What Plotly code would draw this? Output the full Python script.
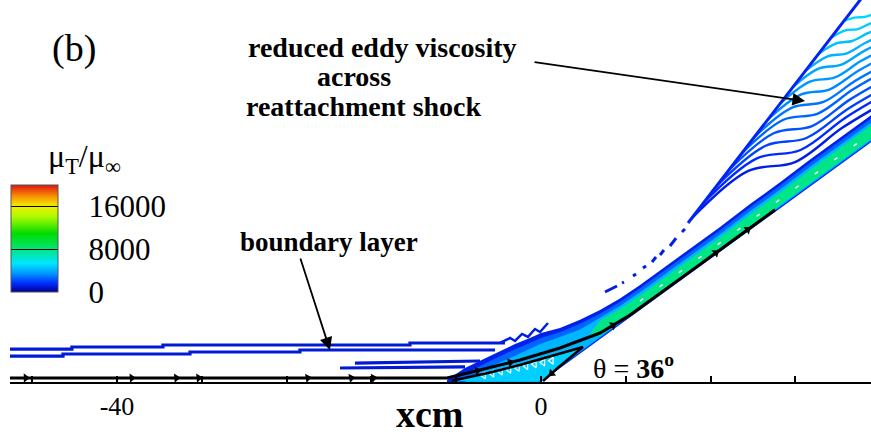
import numpy as np
import plotly.graph_objects as go
from plotly.colors import sample_colorscale

# ---------------- colour map for mu_T / mu_inf ----------------
MU_MAX = 20000
rainbow = [
    [0.0, "rgb(0,0,140)"],
    [0.078, "rgb(0,40,255)"],
    [0.172, "rgb(0,150,255)"],
    [0.266, "rgb(0,230,255)"],
    [0.36, "rgb(0,230,170)"],
    [0.41, "rgb(0,230,110)"],
    [0.547, "rgb(0,220,0)"],
    [0.70, "rgb(170,250,0)"],
    [0.80, "rgb(240,240,0)"],
    [0.89, "rgb(250,150,0)"],
    [1.0, "rgb(220,20,20)"],
]
cbar_ticks = [0, 8000, 16000]

# ---------------- flood levels (x, y in cm) ----------------
outer_mu = 1300
outer_x = [-8.87, -7.17, -4.81, -2.45, -1.04, 0.0, 1.79, 3.68, 5.57, 7.45, 9.34, 11.23, 13.11, 15.0,
           16.89, 19.72, 22.55, 25.38, 28.21, 31.13, 33.87, 33.87, 0.0, -8.87]
outer_y = [0.19, 1.32, 2.45, 3.58, 4.15, 4.63, 5.09, 5.88, 6.79, 7.87, 9.15, 10.52, 11.88, 13.26,
           14.63, 16.79, 18.84, 20.99, 23.04, 25.17, 27.16, 24.61, 0.0, 0.0]

mid_mu = 2600
mid_x = [-8.3, -7.0, -4.81, -2.45, -1.04, 0.0, 1.79, 3.68, 5.57, 7.45, 9.34, 11.23, 13.11, 15.0,
         16.89, 19.72, 22.55, 25.38, 28.21, 31.13, 33.87, 33.87, -0.14, -8.3]
mid_y = [0.05, 0.85, 1.98, 3.10, 3.68, 4.15, 4.70, 5.50, 6.45, 7.55, 8.84, 10.21, 11.57, 12.95,
         14.32, 16.48, 18.53, 20.68, 22.73, 24.86, 26.85, 24.71, 0.0, 0.0]

inner_mu = 4200
inner_x = [-7.2, -5.5, -3.6, -1.8, 0.0, 1.79, 3.68, 5.57, 7.45, 9.34, 11.23, 13.11, 15.0, 16.89,
           19.72, 22.55, 25.38, 28.21, 31.13, 33.87, 33.87, -0.26, -7.2]
inner_y = [0.02, 1.1, 1.95, 2.75, 3.6, 4.25, 4.95, 6.05, 7.18, 8.46, 9.83, 11.19, 12.57, 13.94,
           16.10, 18.15, 20.30, 22.35, 24.48, 26.47, 24.80, 0.0, 0.0]

core_mu = 7800
core_x = [4.6, 5.57, 7.45, 9.34, 11.23, 13.11, 15.0, 16.89, 19.72, 22.55, 25.38, 28.21, 31.13, 33.87,
          33.87, 31.13, 28.21, 25.38, 22.55, 19.72, 16.89, 15.0, 13.11, 11.23, 9.34, 7.45, 5.57]
core_y = [4.5, 5.81, 6.89, 8.17, 9.54, 10.90, 12.28, 13.65, 15.81, 17.86, 20.01, 22.06, 24.19, 26.18,
          24.91, 22.92, 20.79, 18.74, 16.68, 14.63, 12.57, 11.20, 9.82, 8.46, 7.09, 5.71, 4.35]

bubble_mu = 4800
bubble_x = [-8.4, -5.0, -2.0, 1.0, 3.96, 1.79, 0.19, -8.4]
bubble_y = [0.12, 0.85, 1.6, 2.45, 3.30, 1.51, 0.09, 0.12]

# ---------------- contour lines ----------------
bl_mu = 1000
bl1_x = [-50.6, -44.25, -44.25, -35.66, -35.66, -12.36, -12.36, -3.40]
bl1_y = [3.11, 3.11, 3.30, 3.30, 3.49, 3.49, 3.68, 3.68]
bl2_x = [-50.6, -45.09, -45.09, -33.11, -33.11, -22.74, -22.74, -4.34]
bl2_y = [2.45, 2.45, 2.64, 2.64, 2.83, 2.83, 3.02, 3.02]
bl3_x = [-17.55, -5.75]
bl3_y = [1.79, 1.98]
bl4_x = [-18.96, -7.17]
bl4_y = [1.32, 1.42]

feather_mu = 1200
feather_x = [-3.87, -2.92, -2.45, -1.79, -1.23, -0.57, -0.09, 0.66]
feather_y = [3.68, 4.15, 3.87, 4.53, 4.25, 5.0, 4.72, 5.57]

foot_x = [6.04, 7.17, None, 7.64, 7.83, None, 8.68, 8.96, None, 9.62, 9.91, None, 10.47, 10.85,
          None, 11.23, 11.60, None, 12.17, 12.74, None, 13.30, 13.58]
foot_y = [8.49, 9.06, None, 9.34, 9.43, None, 10.0, 10.19, None, 10.75, 10.94, None, 11.32, 11.79,
          None, 11.98, 12.45, None, 12.83, 13.58, None, 14.15, 14.43]

shock_mu = 1400
shock_x = [13.87, 31.0]
shock_y = [15.0, 37.2]

wedge_x = [
    [28.56, 29.58, 30.44, 31.29, 31.98],
    [27.32, 28.72, 29.89, 31.05, 31.98],
    [26.16, 27.91, 29.36, 30.82, 31.98],
    [24.92, 27.04, 28.80, 30.57, 31.98],
    [23.76, 26.23, 28.28, 30.34, 31.98],
    [22.53, 25.37, 27.73, 30.09, 31.98],
    [21.36, 24.55, 27.20, 29.86, 31.98],
    [20.12, 23.68, 26.64, 29.61, 31.98],
    [18.96, 22.87, 26.12, 29.38, 31.98],
    [17.73, 22.0, 25.57, 29.13, 31.98],
    [16.56, 21.19, 25.04, 28.90, 31.98],
    [15.32, 20.32, 24.48, 28.65, 31.98],
    [14.16, 19.51, 23.96, 28.42, 31.98],
]
wedge_y = [
    [34.06, 34.38, 34.43, 34.66, 34.81],
    [32.45, 33.17, 33.30, 33.81, 34.15],
    [30.94, 31.97, 32.17, 32.91, 33.40],
    [29.34, 30.73, 30.99, 31.98, 32.64],
    [27.83, 29.58, 29.91, 31.15, 31.98],
    [26.23, 28.33, 28.73, 30.23, 31.23],
    [24.72, 27.13, 27.59, 29.32, 30.47],
    [23.11, 25.89, 26.42, 28.40, 29.72],
    [21.60, 24.74, 25.33, 27.57, 29.06],
    [20.0, 23.49, 24.15, 26.64, 28.30],
    [18.49, 22.29, 23.02, 25.74, 27.55],
    [16.89, 21.08, 21.89, 24.89, 26.89],
    [15.38, 19.90, 20.75, 23.98, 26.13],
]
wedge_mu = [5000, 4700, 4400, 4100, 3800, 3500, 3200, 2900, 2600, 2300, 2000, 1600, 1200]

# ---------------- streamlines ----------------
stream_x = [-50.6, -8.87, -5.75, -1.98, 1.79, 5.57, 8.40, 11.23, 15.0, 18.77, 22.08]
stream_y = [0.38, 0.38, 1.13, 2.08, 3.21, 4.62, 6.32, 8.35, 11.1, 13.85, 16.25]
loop_x = [-8.4, -5.0, -2.0, 1.0, 3.96, 1.79, 0.19]
loop_y = [0.12, 0.85, 1.6, 2.45, 3.30, 1.51, 0.09]
arrow_x = [-48.6, -38.6, -34.4, -32.3, -22.0, -17.9, -15.8, -6.0, -2.9, 6.8, 16.5, 19.5]

core_mark_x = [9.34, 15.0, 22.55, 28.21, 33.87]
core_mark_y = [7.64, 11.75, 17.23, 21.34, 25.46]
chevron_x = [-5.4, -4.6, -3.8, -3.0, -2.2, -1.4, -0.6, 0.2, 1.0]
chevron_y = [0.62, 0.80, 0.98, 1.15, 1.33, 1.50, 1.67, 1.84, 2.0]

# labelled x ticks and the unlabelled ones in between
xtick_vals = [-40, 0]
xtick_text = ["-40", "0"]
xminor_vals = [-48, -32, -24, -16, -8, 8, 16, 24]

SERIF = "Liberation Serif, Times New Roman, serif"


def mu_colour(v):
    return sample_colorscale(rainbow, [v / MU_MAX])[0]


fig = go.Figure()


def flood(xs, ys, mu):
    fig.add_trace(go.Scatter(x=xs, y=ys, mode="lines", fill="toself", fillcolor=mu_colour(mu),
                             line=dict(width=0, color=mu_colour(mu)), hoverinfo="skip"))


def line(xs, ys, colour, width, dash=None, shape="linear"):
    fig.add_trace(go.Scatter(x=xs, y=ys, mode="lines", hoverinfo="skip",
                             line=dict(color=colour, width=width, dash=dash, shape=shape)))


# boundary-layer contour lines
for bx, by in [(bl1_x, bl1_y), (bl2_x, bl2_y), (bl3_x, bl3_y), (bl4_x, bl4_y)]:
    line(bx, by, mu_colour(bl_mu), 3.2)

# separated region and shear layer along the ramp
flood(outer_x, outer_y, outer_mu)
flood(mid_x, mid_y, mid_mu)
flood(inner_x, inner_y, inner_mu)
flood(core_x, core_y, core_mu)
flood(bubble_x, bubble_y, bubble_mu)
line(core_mark_x, core_mark_y, "white", 1.5, dash="4px,20px")
fig.add_trace(go.Scatter(x=chevron_x, y=chevron_y, mode="markers", hoverinfo="skip",
                         marker=dict(symbol="triangle-left-open", size=6, color="white",
                                     line=dict(width=1.2, color="white"))))

# separation-shock foot and reattachment shock
line(feather_x, feather_y, mu_colour(feather_mu), 2.5)
line(foot_x, foot_y, mu_colour(feather_mu), 3)
for wx, wy, wm in zip(wedge_x, wedge_y, wedge_mu):
    line(wx, wy, mu_colour(wm), 2.4, shape="spline")
line(shock_x, shock_y, mu_colour(shock_mu), 3)

# streamlines
line(stream_x, stream_y, "black", 3)
line(loop_x, loop_y, "black", 2.5)
arrow_y = np.interp(arrow_x, stream_x, stream_y)
slope = np.gradient(np.array(stream_y), np.array(stream_x))
arrow_ang = -np.degrees(np.arctan(np.interp(arrow_x, stream_x, slope)))
fig.add_trace(go.Scatter(x=arrow_x, y=arrow_y, mode="markers", hoverinfo="skip",
                         marker=dict(symbol="triangle-right", size=8, color="black",
                                     angle=arrow_ang)))
fig.add_trace(go.Scatter(x=[1.0], y=[0.8], mode="markers", hoverinfo="skip",
                         marker=dict(symbol="triangle-right", size=8, color="black", angle=138)))

# colour bar
fig.add_trace(go.Scatter(
    x=[-100], y=[-100], mode="markers", hoverinfo="skip",
    marker=dict(color=[0], colorscale=rainbow, cmin=0, cmax=MU_MAX, showscale=True,
                colorbar=dict(x=0.0012, xanchor="left", y=0.3757, yanchor="middle",
                              len=0.2801, lenmode="fraction", thickness=47, xpad=0, ypad=0,
                              outlinewidth=1, outlinecolor="#555",
                              tickvals=cbar_ticks,
                              ticktext=["\u00a0\u00a0\u00a0" + str(t) for t in cbar_ticks],
                              ticks="inside", ticklen=47, tickwidth=1, tickcolor="black",
                              tickfont=dict(family=SERIF, size=31, color="black")))))

annotations = [
    dict(x=-44.06, y=31.5, text="(b)", font=dict(size=38)),
    dict(x=-43.1, y=21.1, text="μ<sub>T</sub>/μ<sub>∞</sub>", font=dict(size=32)),
    dict(x=-14.95, y=31.6, text="<b>reduced eddy viscosity</b>", font=dict(size=28)),
    dict(x=-17.64, y=28.8, text="<b>across</b>", font=dict(size=28)),
    dict(x=-16.7, y=26.0, text="<b>reattachment shock</b>", font=dict(size=28)),
    dict(x=-20.0, y=13.2, text="<b>boundary layer</b>", font=dict(size=27)),
    dict(x=8.77, y=1.45, text="θ = <b>36</b><sup><b>o</b></sup>", font=dict(size=28)),
    dict(x=0.488, y=-0.085, xref="paper", yref="paper", text="<b>xcm</b>", font=dict(size=38)),
]
for a in annotations:
    a.setdefault("xref", "x")
    a.setdefault("yref", "y")
    a["showarrow"] = False
    a["font"].update(family=SERIF, color="black")
    a["xanchor"] = "center"
    a["yanchor"] = "middle"

for tail, head in [((-0.75, 30.19), (24.91, 26.51)), ((-22.74, 11.79), (-19.91, 3.02))]:
    annotations.append(dict(x=head[0], y=head[1], ax=tail[0], ay=tail[1], xref="x", yref="y",
                            axref="x", ayref="y", text="", showarrow=True, arrowhead=2,
                            arrowsize=1.4, arrowwidth=1.8, arrowcolor="black", standoff=0))

fig.update_layout(
    width=871, height=439,
    margin=dict(l=10, r=0, t=0, b=57, pad=0),
    paper_bgcolor="white", plot_bgcolor="white",
    showlegend=False,
    annotations=annotations,
    xaxis=dict(range=[-50.09, 31.13], showgrid=False, zeroline=False, showline=True,
               linecolor="black", linewidth=2, ticks="inside", ticklen=6, tickwidth=1.5,
               tickcolor="black", tickvals=xtick_vals, ticktext=xtick_text,
               minor=dict(tickvals=xminor_vals, ticks="inside", ticklen=6, tickwidth=1.5,
                          tickcolor="black", showgrid=False),
               tickfont=dict(family=SERIF, size=26, color="black"), fixedrange=True),
    yaxis=dict(range=[0, 36.04], visible=False, fixedrange=True),
)

fig.write_html("out.html")
